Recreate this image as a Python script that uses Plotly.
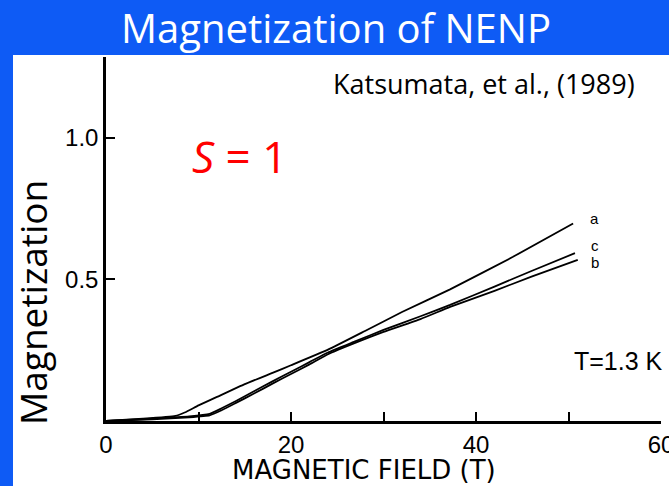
import plotly.graph_objects as go

# ---- data ----
field_a = [0, 4, 7.5, 8.5, 10, 12, 15, 18, 20, 24, 28, 32, 37.2, 44, 50.5]
mag_a = [0, 0.008, 0.018, 0.03, 0.055, 0.085, 0.13, 0.17, 0.197, 0.252, 0.318, 0.385, 0.465, 0.58, 0.698]

field_b = [0, 5, 9, 11.2, 12.5, 14, 16, 18, 20, 22, 24, 27, 30, 34, 37.2, 42, 46, 51]
mag_b = [0, 0.006, 0.013, 0.02, 0.038, 0.063, 0.097, 0.132, 0.166, 0.2, 0.236, 0.277, 0.315, 0.36, 0.403, 0.46, 0.51, 0.569]

field_c = [0, 5, 9, 11.2, 12.5, 14, 16, 18, 20, 22, 24, 27, 30, 34, 37.2, 42, 46, 50.7]
mag_c = [0, 0.008, 0.016, 0.025, 0.045, 0.07, 0.105, 0.14, 0.174, 0.208, 0.242, 0.282, 0.322, 0.37, 0.41, 0.475, 0.53, 0.593]

curve_labels = ["a", "c", "b"]
label_pos_x = [52.8, 52.9, 52.9]
label_pos_y = [0.717, 0.62, 0.56]

x_tickvals = [0, 10, 20, 30, 40, 50, 60]
x_ticktext = ["0", "", "20", "", "40", "", "60"]
y_tickvals = [0.5, 1.0]
y_ticktext = ["0.5", "1.0"]

W, H = 669, 486
ML, MR, MT, MB = 106, 8, 57, 65
PW, PH = W - ML - MR, H - MT - MB

def px(x):
    return (x - ML) / PW

def py(y):
    return (H - MB - y) / PH

BLUE = "#0e5bf5"

fig = go.Figure()
for fx, my in [(field_a, mag_a), (field_b, mag_b), (field_c, mag_c)]:
    fig.add_trace(go.Scatter(x=fx, y=my, mode="lines",
                             line=dict(color="black", width=1.8, shape="spline", smoothing=0.4),
                             showlegend=False, hoverinfo="skip"))

fig.update_layout(
    width=W, height=H,
    margin=dict(l=ML, r=MR, t=MT, b=MB, autoexpand=False),
    paper_bgcolor=BLUE,
    plot_bgcolor="white",
    showlegend=False,
)

fig.update_xaxes(range=[0, 60], showline=True, linecolor="black", linewidth=2.5,
                 ticks="inside", ticklen=9, tickwidth=2, tickcolor="black",
                 tickvals=x_tickvals, ticktext=x_ticktext, showgrid=False, zeroline=False,
                 tickfont=dict(family="Liberation Sans", size=24, color="black"),
                 ticklabelstandoff=0, ticklabeloverflow="allow", automargin=False)
fig.update_yaxes(range=[0, 1.286], showline=True, linecolor="black", linewidth=2.5,
                 ticks="inside", ticklen=9, tickwidth=2, tickcolor="black",
                 tickvals=y_tickvals, ticktext=y_ticktext, showgrid=False, zeroline=False,
                 tickfont=dict(family="Liberation Sans", size=24, color="black"),
                 ticklabelstandoff=0, automargin=False)

# white slide panel
fig.add_shape(type="rect", xref="paper", yref="paper", x0=px(13), x1=px(680), y0=py(55), y1=py(500),
              fillcolor="white", line=dict(width=0), layer="below")

anns = [
    dict(text="Magnetization of NENP", x=px(336), y=py(27), font=dict(family="Open Sans", size=40, color="white")),
    dict(text="Magnetization", x=px(32), y=py(303), textangle=-90, font=dict(family="Open Sans", size=37, color="black")),
    dict(text="Katsumata, et al., (1989)", x=px(484), y=py(84), font=dict(family="Open Sans", size=27, color="black")),
    dict(text="<i>S</i> = 1", x=px(239), y=py(156), font=dict(family="Open Sans", size=44, color="#ff0000")),
    dict(text="T=1.3 K", x=px(618), y=py(361), font=dict(family="Liberation Sans", size=25, color="black")),
    dict(text="MAGNETIC FIELD (T)", x=px(364), y=py(470), font=dict(family="DejaVu Sans", size=26, color="black")),
]
for a in anns:
    fig.add_annotation(xref="paper", yref="paper", showarrow=False, xanchor="center", yanchor="middle", **a)

for t, lx, ly in zip(curve_labels, label_pos_x, label_pos_y):
    fig.add_annotation(x=lx, y=ly, xref="x", yref="y", text=t, showarrow=False,
                       font=dict(family="Liberation Sans", size=15, color="black"))

fig.write_html("out.html")
